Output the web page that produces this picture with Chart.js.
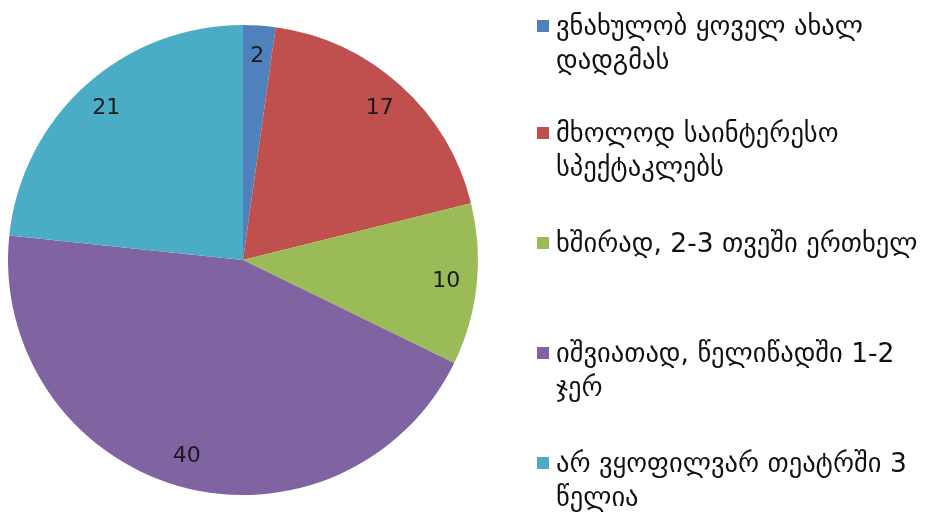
<!DOCTYPE html>
<html>
<head>
<meta charset="utf-8">
<script src="https://cdn.jsdelivr.net/npm/chart.js@4.4.1/dist/chart.umd.min.js"></script>
<style>
    body { margin: 0; background: #fff; }
    .wrap { position: relative; width: 930px; height: 520px; overflow: hidden; }
    #chart { position: absolute; left: 0; top: 0; }
    .legend { position: absolute; left: 535px; top: 9px; width: 400px; font-family: "DejaVu Sans", sans-serif; font-size: 26.5px; color: #111; }
    .legend .item { position: relative; height: 110px; padding-left: 21px; line-height: 34px; }
    .legend .item:first-child { height: 107px; }
    .legend .box { position: absolute; left: 2px; top: 11px; width: 12px; height: 12px; }
</style>
</head>
<body>
<div class="wrap">
    <canvas id="chart" width="930" height="520"></canvas>
    <div class="legend" id="legend"></div>
</div>
<script>
// Chart data
const categories = [
    'ვნახულობ ყოველ ახალ დადგმას',
    'მხოლოდ საინტერესო სპექტაკლებს',
    'ხშირად, 2-3 თვეში ერთხელ',
    'იშვიათად, წელიწადში 1-2 ჯერ',
    'არ ვყოფილვარ თეატრში 3 წელია'
];
const values = [2, 17, 10, 40, 21];
const colors = ['#4F81BD', '#C0504D', '#9BBB59', '#8064A2', '#4BACC6'];

// Draw value labels inside the slices
const sliceLabels = {
    id: 'sliceLabels',
    afterDatasetsDraw(chart) {
        const ctx = chart.ctx;
        const meta = chart.getDatasetMeta(0);
        ctx.save();
        ctx.font = '22px "DejaVu Sans", sans-serif';
        ctx.fillStyle = '#1a1a1a';
        ctx.textAlign = 'center';
        ctx.textBaseline = 'middle';
        meta.data.forEach((arc, i) => {
            const mid = (arc.startAngle + arc.endAngle) / 2;
            const r = arc.outerRadius * 0.87;
            ctx.fillText(String(values[i]), arc.x + Math.cos(mid) * r, arc.y + Math.sin(mid) * r);
        });
        ctx.restore();
    }
};

new Chart(document.getElementById('chart').getContext('2d'), {
    type: 'pie',
    data: {
        labels: categories,
        datasets: [{
            data: values,
            backgroundColor: colors,
            borderWidth: 0
        }]
    },
    options: {
        responsive: false,
        animation: false,
        layout: { padding: { left: 8, top: 25, bottom: 25, right: 452 } },
        plugins: {
            legend: { display: false },
            tooltip: { enabled: false }
        }
    },
    plugins: [sliceLabels]
});

// HTML legend so the long labels can wrap
const legend = document.getElementById('legend');
categories.forEach((label, i) => {
    const item = document.createElement('div');
    item.className = 'item';
    const box = document.createElement('span');
    box.className = 'box';
    box.style.background = colors[i];
    item.appendChild(box);
    item.appendChild(document.createTextNode(label));
    legend.appendChild(item);
});
</script>
</body>
</html>
